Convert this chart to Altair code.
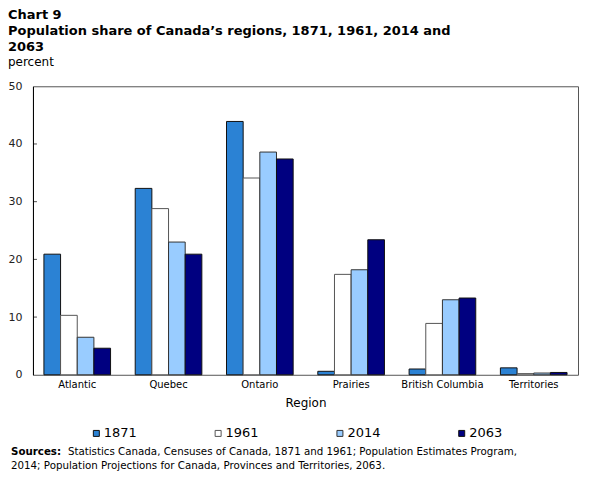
"""Chart 9: Population share of Canada's regions, 1871, 1961, 2014 and 2063"""

import pandas as pd
import altair as alt

regions = ["Atlantic", "Quebec", "Ontario", "Prairies", "British Columbia", "Territories"]
years = ["1871", "1961", "2014", "2063"]

share_1871 = [20.9, 32.3, 43.9, 0.6, 1.0, 1.2]
share_1961 = [10.3, 28.8, 34.1, 17.4, 8.9, 0.2]
share_2014 = [6.5, 23.0, 38.6, 18.2, 13.0, 0.3]
share_2063 = [4.6, 20.9, 37.4, 23.4, 13.3, 0.4]

y_ticks = [0, 10, 20, 30, 40, 50]

year_colors = ["#2b82d4", "#ffffff", "#99ccff", "#000080"]
year_strokes = ["#111111", "#555555", "#333333", "#111111"]

sources_line1 = "Statistics Canada, Censuses of Canada, 1871 and 1961; Population Estimates Program,"
sources_line2 = "2014; Population Projections for Canada, Provinces and Territories, 2063."

rows = []
for year, values in zip(years, [share_1871, share_1961, share_2014, share_2063]):
    for region, value in zip(regions, values):
        rows.append({"region": region, "year": year, "share": value})
data = pd.DataFrame(rows)

FONT = "DejaVu Sans"

bars = (
    alt.Chart(data)
    .mark_bar(strokeWidth=1)
    .encode(
        x=alt.X(
            "region:N",
            sort=regions,
            title="Region",
            scale=alt.Scale(paddingInner=0.27, paddingOuter=0.12),
            axis=alt.Axis(
                labelAngle=0,
                ticks=False,
                domain=False,
                labelFontSize=10,
                labelPadding=5,
                titleFontSize=12,
                titleFontWeight="normal",
                titlePadding=8,
                labelColor="black",
                titleColor="black",
            ),
        ),
        xOffset=alt.XOffset("year:N", sort=years),
        y=alt.Y(
            "share:Q",
            title=None,
            scale=alt.Scale(domain=[0, 50], nice=False),
            axis=alt.Axis(
                values=y_ticks,
                ticks=False,
                grid=False,
                domainColor="black",
                labelFontSize=11,
                labelPadding=11,
                labelColor="#222222",
            ),
        ),
        color=alt.Color(
            "year:N",
            sort=years,
            scale=alt.Scale(domain=years, range=year_colors),
            title=None,
            legend=alt.Legend(
                orient="none",
                direction="horizontal",
                legendX=57,
                legendY=341,
                symbolType="square",
                symbolSize=36,
                symbolStrokeWidth=1,
                labelFontSize=13,
                labelOffset=1,
                columnPadding=74,
                padding=0,
                labelColor="black",
            ),
        ),
        stroke=alt.Stroke(
            "year:N",
            sort=years,
            scale=alt.Scale(domain=years, range=year_strokes),
            legend=None,
        ),
    )
)

ticks = (
    alt.Chart(pd.DataFrame({"v": y_ticks[1:-1]}))
    .mark_tick(orient="horizontal", size=4, color="black", thickness=1)
    .encode(y=alt.Y("v:Q"), x=alt.value(2))
)

src_bold = (
    alt.Chart(pd.DataFrame({"t": ["Sources:"]}))
    .mark_text(align="left", baseline="alphabetic", fontWeight="bold", fontSize=10.3, font=FONT)
    .encode(text="t:N", x=alt.value(-22), y=alt.value(369))
)
src_1 = (
    alt.Chart(pd.DataFrame({"t": [sources_line1]}))
    .mark_text(align="left", baseline="alphabetic", fontSize=10.3, font=FONT)
    .encode(text="t:N", x=alt.value(35), y=alt.value(369))
)
src_2 = (
    alt.Chart(pd.DataFrame({"t": [sources_line2]}))
    .mark_text(align="left", baseline="alphabetic", fontSize=10.3, font=FONT)
    .encode(text="t:N", x=alt.value(-22), y=alt.value(383))
)

chart = (
    alt.layer(bars, ticks, src_bold, src_1, src_2)
    .properties(
        width=546,
        height=289,
        padding={"left": 0, "top": 1, "right": 5, "bottom": 5},
        title=alt.TitleParams(
            text=[
                "Chart 9",
                "Population share of Canada\u2019s regions, 1871, 1961, 2014 and",
                "2063",
            ],
            subtitle="percent",
            anchor="start",
            frame="bounds",
            fontSize=13,
            fontWeight="bold",
            lineHeight=16,
            subtitleFontSize=12,
            subtitleColor="black",
            subtitlePadding=3,
            offset=12,
            color="black",
        ),
    )
    .configure(font=FONT)
    .configure_view(stroke="#555555", strokeWidth=1)
)

chart.save("out.html", embed_options={"renderer": "svg", "actions": False})
